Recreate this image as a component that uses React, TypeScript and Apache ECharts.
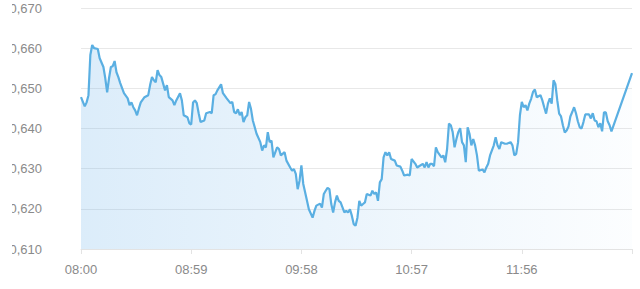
import React, { useEffect, useRef } from "react";
import * as echarts from "echarts";

// minutes after 08:00
const minutes: number[] = [
  0, 2, 3, 4, 5, 6, 7, 9, 10, 12, 13, 14, 15, 16, 17, 18, 19, 20, 21, 23, 25, 26, 27, 28, 29, 30, 31, 32, 34, 36, 37, 38, 39, 40, 41, 42, 43, 45, 46, 47, 49, 50, 51, 53, 54, 55, 57, 58,
  59, 60, 61, 62, 63, 64, 66, 67, 69, 70, 71, 72, 73, 75, 76, 78, 80, 81, 82, 83, 84, 85, 86, 87, 88, 89, 90, 91, 92, 94, 96, 97, 98, 99, 100, 101, 102, 103, 105, 106, 107, 109, 110, 112, 113, 114, 115, 116, 117,
  118, 119, 121, 122, 124, 125, 126, 128, 129, 130, 131, 132, 133, 134, 135, 136, 137, 138, 139, 141, 142, 143, 144, 145, 146, 147, 148, 149, 150, 151, 152, 153, 155, 156, 157, 158, 159, 160, 161, 162, 163, 164, 165, 166, 168, 169, 171, 172, 173, 175, 176,
  177, 179, 180, 181, 183, 184, 185, 186, 187, 188, 189, 190, 191, 193, 194, 195, 196, 197, 198, 199, 200, 201, 202, 203, 204, 205, 206, 207, 208, 209, 210, 211, 212, 213, 215, 216, 217, 218, 219, 221, 222, 223, 224, 225, 227, 228, 230, 231, 232, 233, 234,
  235, 236, 237, 238, 239, 240, 241, 242, 243, 244, 246, 247, 248, 249, 250, 251, 252, 253, 254, 255, 256, 257, 258, 259, 260, 261, 262, 263, 264, 265, 266, 267, 268, 269, 270, 271, 272, 273, 274, 275, 276, 277, 278, 279, 280, 281, 282, 283, 284, 295,
];

const values: number[] = [
  0.6478, 0.6455, 0.6465, 0.6483, 0.6583, 0.6608, 0.66, 0.6598, 0.6575, 0.6553, 0.6525, 0.649, 0.6525, 0.6553, 0.6555, 0.6568, 0.654, 0.6528, 0.6513, 0.6488, 0.6475, 0.6458, 0.6465, 0.6453, 0.6445, 0.6433, 0.645, 0.6465, 0.6478, 0.6483, 0.6508, 0.6528, 0.652, 0.6515, 0.6545, 0.6533, 0.6528, 0.6495, 0.6508, 0.6478, 0.647, 0.6458, 0.647, 0.6488, 0.647, 0.6433, 0.6428, 0.6413,
  0.641, 0.6465, 0.647, 0.6463, 0.6438, 0.6416, 0.642, 0.6438, 0.6441, 0.6438, 0.6483, 0.6485, 0.6495, 0.651, 0.6488, 0.6475, 0.6463, 0.6466, 0.6441, 0.6438, 0.6448, 0.6433, 0.6441, 0.6416, 0.6428, 0.6433, 0.6466, 0.6449, 0.642, 0.6387, 0.6366, 0.6345, 0.6358, 0.6353, 0.6391, 0.6366, 0.637, 0.6328, 0.6353, 0.6349, 0.6333, 0.6341, 0.632, 0.6303, 0.6295, 0.6299, 0.6287, 0.6249, 0.627,
  0.6308, 0.6262, 0.622, 0.6199, 0.6178, 0.6195, 0.6208, 0.6213, 0.6203, 0.6237, 0.6245, 0.6252, 0.6249, 0.6212, 0.6191, 0.6216, 0.6233, 0.622, 0.6216, 0.6191, 0.6195, 0.6191, 0.6199, 0.6183, 0.6162, 0.6158, 0.6178, 0.622, 0.6208, 0.6212, 0.6216, 0.6237, 0.6233, 0.6245, 0.6237, 0.6241, 0.622, 0.6266, 0.6274, 0.6328, 0.6341, 0.6333, 0.6341, 0.6324, 0.632, 0.6308, 0.6305, 0.6295, 0.6283, 0.6285, 0.6283,
  0.6324, 0.6312, 0.6303, 0.6306, 0.6312, 0.6303, 0.6316, 0.6303, 0.6312, 0.6312, 0.6306, 0.6353, 0.6341, 0.6328, 0.6333, 0.6316, 0.6349, 0.6412, 0.6408, 0.6391, 0.6353, 0.6374, 0.6391, 0.6401, 0.6366, 0.6358, 0.6316, 0.6403, 0.6387, 0.6358, 0.6374, 0.6358, 0.6333, 0.6295, 0.6298, 0.6291, 0.6303, 0.6312, 0.6333, 0.6358, 0.6378, 0.6358, 0.6349, 0.6366, 0.6362, 0.6362, 0.6366, 0.6358, 0.6333, 0.6337, 0.6366,
  0.6433, 0.6466, 0.6453, 0.6458, 0.6445, 0.6462, 0.6474, 0.6491, 0.6497, 0.6478, 0.6483, 0.647, 0.6453, 0.6437, 0.6462, 0.6475, 0.6462, 0.652, 0.651, 0.647, 0.6437, 0.643, 0.6408, 0.639, 0.6395, 0.6405, 0.643, 0.6441, 0.6453, 0.6438, 0.6418, 0.6403, 0.64, 0.6416, 0.6435, 0.6435, 0.6435, 0.6425, 0.6438, 0.642, 0.6418, 0.6403, 0.6413, 0.6393, 0.644, 0.644, 0.6418, 0.6408, 0.6393, 0.6538,
];

const startHour = 8;
const yMin = 0.61;
const yMax = 0.67;
const yStep = 0.01;
const xMax = 295;
const xStep = 59;

function fmtTime(m: number): string {
  const total = startHour * 60 + Math.round(m);
  const h = Math.floor(total / 60);
  const mm = total % 60;
  return String(h).padStart(2, "0") + ":" + String(mm).padStart(2, "0");
}

export default function App() {
  const ref = useRef<HTMLDivElement>(null);
  useEffect(() => {
    document.body.style.margin = "0";
    if (!ref.current) return;
    const chart = echarts.init(ref.current, null, { renderer: "svg" });
    const font = "Liberation Sans, Arial, sans-serif";
    chart.setOption({
      animation: false,
      backgroundColor: "#ffffff",
      grid: { left: 81, right: 8, top: 8, bottom: 40, containLabel: false },
      xAxis: {
        type: "value",
        min: 0,
        max: xMax,
        interval: xStep,
        axisLine: { show: true, lineStyle: { color: "#e3e3e3", width: 1 } },
        axisTick: { show: true, length: 5, lineStyle: { color: "#e3e3e3" } },
        splitLine: { show: false },
        axisLabel: {
          color: "#8a8a8a",
          fontSize: 13,
          fontFamily: font,
          margin: 14,
          formatter: (v: number) => (v >= xMax ? "" : fmtTime(v)),
        },
      },
      yAxis: {
        type: "value",
        min: yMin,
        max: yMax,
        interval: yStep,
        axisLine: { show: false },
        axisTick: { show: false },
        splitLine: { show: true, lineStyle: { color: "#e8e8e8", width: 1 } },
        axisLabel: {
          color: "#8a8a8a",
          fontSize: 13,
          fontFamily: font,
          margin: 39,
          formatter: (v: number) => v.toFixed(3).replace(".", ","),
        },
      },
      graphic: [
        {
          type: "rect",
          left: 0,
          top: 0,
          shape: { width: 12, height: 260 },
          style: { fill: "#ffffff" },
          z: 100,
          silent: true,
        },
      ],
      series: [
        {
          type: "line",
          data: minutes.map((m, i) => [m, values[i]]),
          showSymbol: false,
          symbol: "none",
          smooth: false,
          lineStyle: { color: "#5aafe2", width: 2.2 },
          areaStyle: {
            color: new echarts.graphic.LinearGradient(0, 0, 1, 0, [
              { offset: 0, color: "rgba(115,182,235,0.36)" },
              { offset: 1, color: "rgba(115,182,235,0.03)" },
            ]),
          },
        },
      ],
    });
    return () => chart.dispose();
  }, []);
  return <div ref={ref} style={{ width: 640, height: 289 }} />;
}
